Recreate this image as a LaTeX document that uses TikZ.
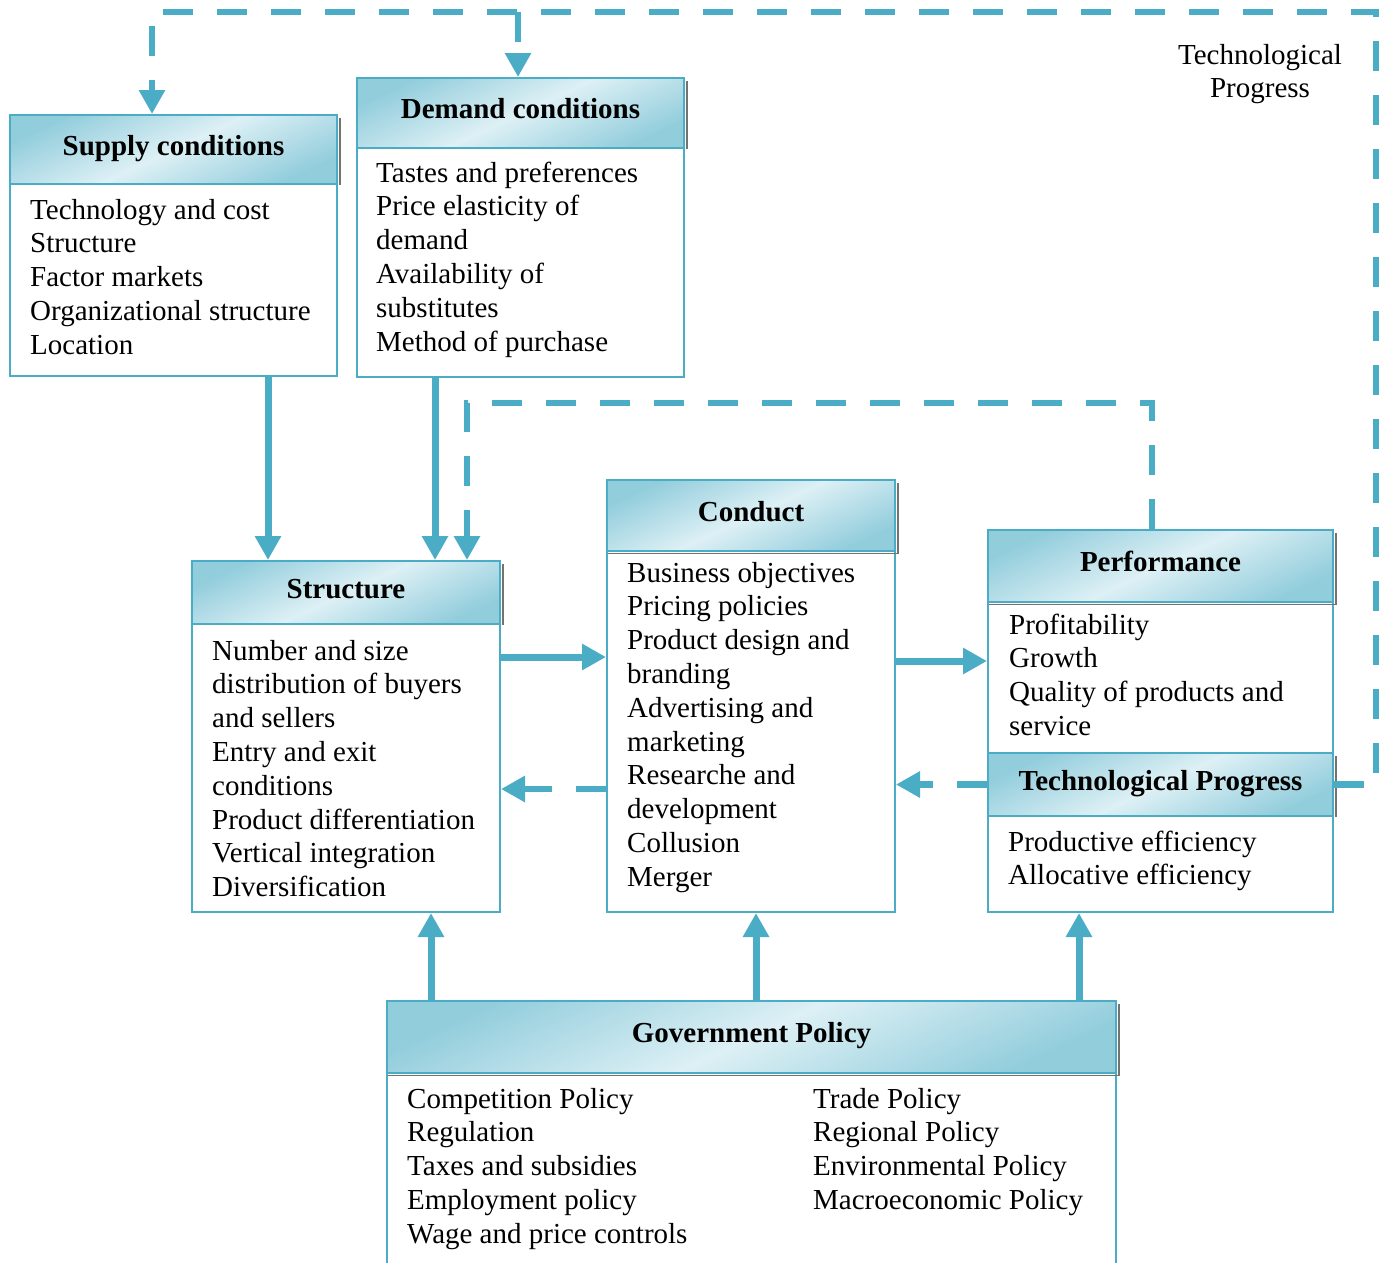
\documentclass[tikz,border=0pt]{standalone}
\usepackage{fontspec}
\setmainfont{Liberation Serif}
\usetikzlibrary{arrows.meta}
\definecolor{scpblue}{HTML}{4BACC6}
\definecolor{hdrlight}{HTML}{DDF0F5}
\definecolor{hdrdark}{HTML}{92CDDC}
% list of body lines, one node per line, starting at a given baseline
\newcommand\bodylines[3]{%
  \foreach \itemtext [count=\k from 0] in {#3}
    \node[txt, anchor=base west] at (#1, #2+33.8*\k) {\itemtext};}
\begin{document}
\begin{tikzpicture}[x=1pt, y=-1pt,
  txt/.style={font=\fontsize{29}{33.8}\selectfont, inner sep=0pt},
  hdr/.style={draw=scpblue, line width=2pt, anchor=north west,
    top color=hdrdark, bottom color=hdrdark, middle color=hdrlight,
    shading angle=25, font=\bfseries\fontsize{29}{34}\selectfont, inner sep=0pt,
    text height=20pt, text depth=9pt},
  bodybox/.style={draw=scpblue, line width=2pt, fill=white, anchor=north west, inner sep=0pt},
  flow/.style={scpblue, line width=7pt, -{Triangle[length=24pt, width=25pt]}},
  feedback/.style={scpblue, line width=6.5pt, dash pattern=on 30pt off 24pt,
    -{Triangle[length=24pt, width=25pt]}},
  dropshade/.style={black!55, line width=1.6pt}
]
\useasboundingbox (0,0) rectangle (1383,1262);

% ---- Supply conditions
\node[bodybox, minimum width=327pt, minimum height=192pt] (sB) at (9,183) {};
\node[hdr, minimum width=327pt, minimum height=69pt] (sH) at (9,114) {Supply conditions};
\draw[dropshade] ([xshift=2pt, yshift=-4pt]sH.north east) -- ([xshift=2pt]sH.south east);
\bodylines{30}{219}{Technology and cost, Structure, Factor markets, Organizational structure, Location}

% ---- Demand conditions
\node[bodybox, minimum width=327pt, minimum height=229pt] (dB) at (356,147) {};
\node[hdr, minimum width=327pt, minimum height=70pt] (dH) at (356,77) {Demand conditions};
\draw[dropshade] ([xshift=2pt, yshift=-4pt]dH.north east) -- ([xshift=2pt]dH.south east);
\bodylines{376}{182}{Tastes and preferences, Price elasticity of, demand, Availability of, substitutes, Method of purchase}

% ---- Structure
\node[bodybox, minimum width=308pt, minimum height=288pt] (stB) at (191,623) {};
\node[hdr, minimum width=308pt, minimum height=63pt] (stH) at (191,560) {Structure};
\draw[dropshade] ([xshift=2pt, yshift=-4pt]stH.north east) -- ([xshift=2pt]stH.south east);
\bodylines{212}{660}{Number and size, distribution of buyers, and sellers, Entry and exit, conditions, Product differentiation, Vertical integration, Diversification}

% ---- Conduct
\node[bodybox, minimum width=288pt, minimum height=361pt] (cB) at (606,550) {};
\node[hdr, minimum width=288pt, minimum height=71pt] (cH) at (606,479) {Conduct};
\draw[dropshade] ([xshift=2pt, yshift=-4pt]cH.north east) -- ([xshift=2pt, yshift=-1.5pt]cH.south east)
  -- ([xshift=2pt, yshift=-1.5pt]cH.south west);
\bodylines{627}{582}{Business objectives, Pricing policies, Product design and, branding, Advertising and, marketing, Researche and, development, Collusion, Merger}

% ---- Performance
\node[bodybox, minimum width=345pt, minimum height=151pt] (pB) at (987,601) {};
\node[hdr, minimum width=345pt, minimum height=72pt] (pH) at (987,529) {Performance};
\draw[dropshade] ([xshift=2pt, yshift=-4pt]pH.north east) -- ([xshift=2pt, yshift=-1.5pt]pH.south east)
  -- ([xshift=2pt, yshift=-1.5pt]pH.south west);
\bodylines{1009}{634}{Profitability, Growth, Quality of products and, service}

% ---- Technological Progress
\node[bodybox, minimum width=345pt, minimum height=96pt] (tB) at (987,815) {};
\node[hdr, minimum width=345pt, minimum height=63pt] (tH) at (987,752) {Technological Progress};
\draw[dropshade] ([xshift=2pt, yshift=-4pt]tH.north east) -- ([xshift=2pt]tH.south east);
\bodylines{1008}{851}{Productive efficiency, Allocative efficiency}

% ---- Government Policy
\node[bodybox, minimum width=729pt, minimum height=200pt] (gB) at (386,1072) {};
\node[hdr, minimum width=729pt, minimum height=72pt] (gH) at (386,1000) {Government Policy};
\draw[dropshade] ([xshift=2pt, yshift=-4pt]gH.north east) -- ([xshift=2pt, yshift=-1.5pt]gH.south east)
  -- ([xshift=2pt, yshift=-1.5pt]gH.south west);
\bodylines{407}{1108}{Competition Policy, Regulation, Taxes and subsidies, Employment policy, Wage and price controls}
\bodylines{813}{1108}{Trade Policy, Regional Policy, Environmental Policy, Macroeconomic Policy}

% ---- Free label of the outer loop
\node[txt, align=center] (tlabel) at (1260,74) {Technological\\Progress};

% ---- Solid flows
\draw[flow] (sB.south -| 268,0) -- (stH.north -| 268,0);
\draw[flow] (dB.south -| 435,0) -- (stH.north -| 435,0);
\draw[flow] (stB.east |- 0,657) -- (cB.west |- 0,657);
\draw[flow] (cB.east |- 0,661) -- (pB.west |- 0,661);
\draw[flow] (gH.north -| 431,0) -- (stB.south -| 431,0);
\draw[flow] (gH.north -| 756,0) -- (cB.south -| 756,0);
\draw[flow] (gH.north -| 1079,0) -- (tB.south -| 1079,0);

% ---- Feedback loops
\draw[feedback] (cB.west |- 0,789) -- (stB.east |- 0,789);
\draw[feedback] (tH.west) -- (cB.east |- tH.west);
\draw[feedback] (pH.north -| 1152,0) -- (1152,403) -- (467,403) -- (stH.north -| 467,0);
\draw[feedback] (tH.east) -- (tH.east -| 1376,0) -- (1376,12) -- (152,12) -- (sH.north -| 152,0);
\draw[feedback] (518,12) -- (dH.north -| 518,0);
\end{tikzpicture}
\end{document}
